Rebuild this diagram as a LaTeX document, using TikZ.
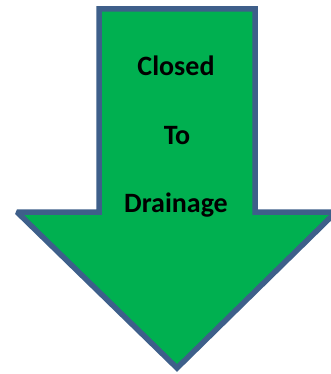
\documentclass[tikz,border=0pt]{standalone}
\usepackage{fontspec}
\setmainfont{Carlito}
\definecolor{arrowgreen}{HTML}{00B050}
\definecolor{arrowblue}{HTML}{3E5F8A}
\begin{document}
\begin{tikzpicture}[x=1pt,y=-1pt,
  lbl/.style={anchor=base,font=\fontsize{28}{33}\selectfont\bfseries,text=black,inner sep=0pt}]
\useasboundingbox (0,0) rectangle (330,374);
\draw[fill=arrowgreen,draw=arrowblue,line width=5.5pt,miter limit=2]
  (99,9) -- (255,9) -- (255,212) -- (336,212) -- (177,368) -- (17,212) -- (99,212) -- cycle;
\node[lbl] (closed) at (176,76) {Closed};
\node[lbl] (to) at (177,145) {To};
\node[lbl] (drain) at (176,212) {Drainage};
\end{tikzpicture}
\end{document}
